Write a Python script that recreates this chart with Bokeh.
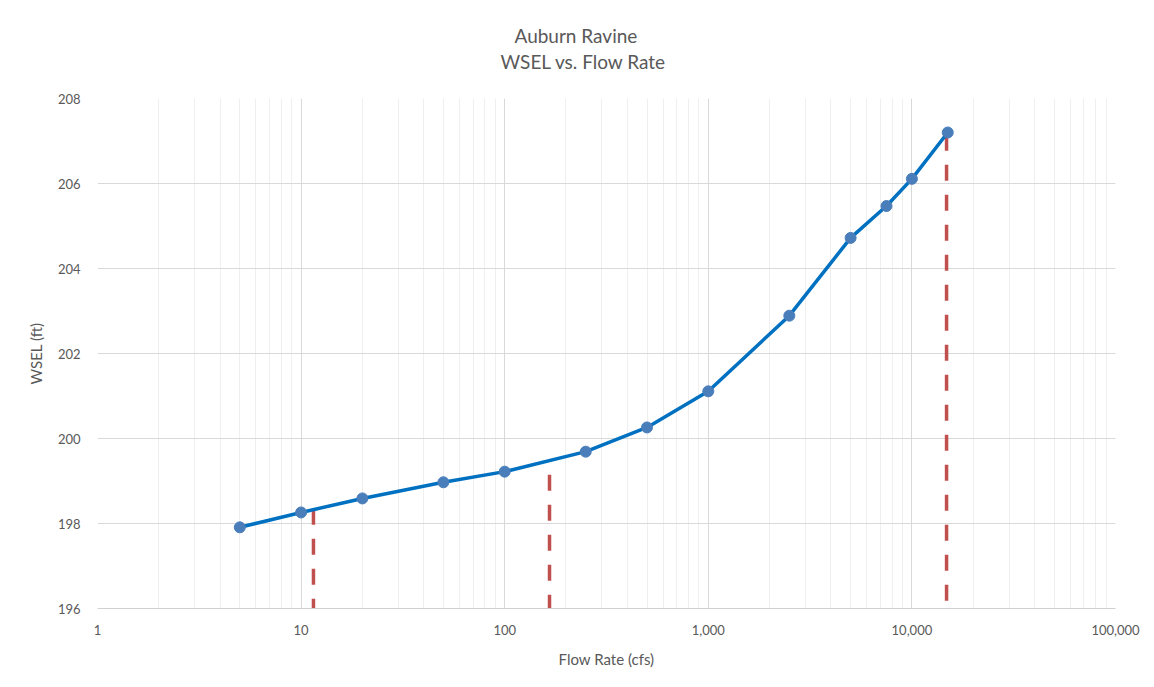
from bokeh.plotting import figure
from bokeh.models import Range1d, FixedTicker, NumeralTickFormatter, Title
from bokeh.embed import file_html
from bokeh.resources import INLINE

# Data
flow = [5, 10, 20, 50, 100, 250, 500, 1000, 2500, 5000, 7500, 10000, 15000]
wsel = [197.91, 198.26, 198.59, 198.97, 199.22, 199.69, 200.26, 201.11,
        202.89, 204.72, 205.47, 206.11, 207.20]

ref_flow = [11.5, 166, 14800]
ref_top = [198.35, 199.15, 207.15]
ref_bottom = [196, 196, 196]

x_ticks = [1, 10, 100, 1000, 10000, 100000]
y_ticks = [196, 198, 200, 202, 204, 206, 208]

title_main = "Auburn Ravine"
title_sub = "WSEL vs. Flow Rate"

FONT = "Lato"
GREY = "#595959"

minor = [m * d for d in [1, 10, 100, 1000, 10000] for m in range(2, 10)]

p = figure(width=1146, height=679, x_axis_type="log",
           x_range=Range1d(1, 100000), y_range=Range1d(196, 208),
           output_backend="svg", toolbar_location=None,
           min_border_left=97, min_border_right=31,
           min_border_top=98, min_border_bottom=71)
p.outline_line_color = None
p.background_fill_color = "white"
p.border_fill_color = "white"

p.add_layout(Title(text=title_sub, align="left", offset=403,
                   text_font=FONT, text_font_size="19px", text_font_style="normal",
                   text_color=GREY, standoff=52), "above")
p.add_layout(Title(text=title_main, align="left", offset=417,
                   text_font=FONT, text_font_size="19px", text_font_style="normal",
                   text_color=GREY, standoff=-50), "above")

p.xaxis.ticker = FixedTicker(ticks=x_ticks, minor_ticks=minor)
p.xaxis.formatter = NumeralTickFormatter(format="0,0")
p.yaxis.ticker = FixedTicker(ticks=y_ticks)

for ax in (p.xaxis, p.yaxis):
    ax.major_tick_line_color = None
    ax.minor_tick_line_color = None
    ax.major_tick_out = 0
    ax.minor_tick_out = 0
    ax.major_label_text_font = FONT
    ax.major_label_text_font_size = "13px"
    ax.major_label_text_color = GREY
    ax.axis_label_text_font = FONT
    ax.axis_label_text_font_size = "15px"
    ax.axis_label_text_font_style = "normal"
    ax.axis_label_text_color = GREY

p.xaxis.major_label_standoff = 16
p.yaxis.major_label_standoff = 17
p.xaxis.axis_line_color = "#D0D0D0"
p.yaxis.axis_line_color = None
p.xaxis.axis_label = "Flow Rate (cfs)"
p.yaxis.axis_label = "WSEL (ft)"
p.xaxis.axis_label_standoff = 12
p.yaxis.axis_label_standoff = 10

p.xgrid.grid_line_color = "#D9D9D9"
p.xgrid.minor_grid_line_color = "#EFEFEF"
p.ygrid.grid_line_color = "#D9D9D9"

p.segment(x0=ref_flow, y0=ref_top, x1=ref_flow, y1=ref_bottom,
          line_color="#C0504D", line_width=3.5, line_dash="16 14")
p.line(flow, wsel, line_color="#0070C0", line_width=3.5)
p.scatter(flow, wsel, size=11, fill_color="#4A7EBB", line_color="#4A7EBB")

open("out.html", "w").write(file_html(p, INLINE))
